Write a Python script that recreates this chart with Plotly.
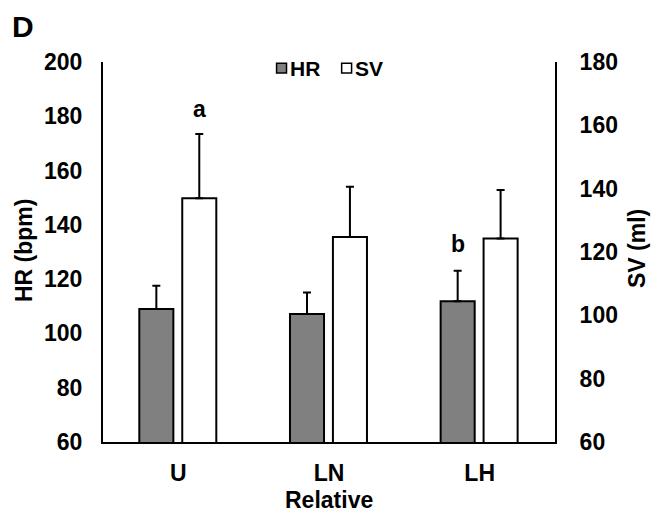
import plotly.graph_objects as go

categories = ["U", "LN", "LH"]
hr_values = [109.0, 107.2, 111.9]
hr_err = [8.6, 7.9, 11.2]
sv_values = [137.0, 124.7, 124.3]
sv_err = [20.3, 15.9, 15.3]
left_ticks = [60, 80, 100, 120, 140, 160, 180, 200]
right_ticks = [60, 80, 100, 120, 140, 160, 180]

FONT = "Liberation Sans, Arial, sans-serif"
HR_COLOR = "#808080"

fig = go.Figure()
fig.add_trace(go.Bar(
    x=categories, y=hr_values, name="HR",
    marker=dict(color=HR_COLOR, line=dict(color="black", width=2)),
    width=0.226, offset=-0.259,
    error_y=dict(type="data", array=hr_err, arrayminus=[0, 0, 0], symmetric=False,
                 color="black", thickness=2, width=4),
    yaxis="y",
))
fig.add_trace(go.Bar(
    x=categories, y=sv_values, name="SV",
    marker=dict(color="white", line=dict(color="black", width=2)),
    width=0.226, offset=0.026,
    error_y=dict(type="data", array=sv_err, arrayminus=[0, 0, 0], symmetric=False,
                 color="black", thickness=2, width=4),
    yaxis="y2",
))

tickfont = dict(family=FONT, size=23, color="black", weight="bold")

fig.update_layout(
    width=662, height=519,
    margin=dict(l=95, r=115, t=54, b=85, autoexpand=False),
    paper_bgcolor="white", plot_bgcolor="white",
    barmode="overlay",
    showlegend=False,
    xaxis=dict(
        showline=True, linecolor="black", linewidth=2, ticks="",
        showgrid=False, tickfont=tickfont, ticklabelstandoff=9,
        range=[-0.5, 2.5], automargin=False,
    ),
    yaxis=dict(
        range=[60, 200], tickvals=left_ticks, showline=True, linecolor="black", linewidth=2,
        ticks="", showgrid=False, zeroline=False, tickfont=tickfont, ticklabelstandoff=14,
        automargin=False,
    ),
    yaxis2=dict(
        range=[60, 180], tickvals=right_ticks, overlaying="y", side="right",
        showline=True, linecolor="black", linewidth=2,
        ticks="", showgrid=False, zeroline=False, tickfont=tickfont, ticklabelstandoff=18,
        automargin=False,
    ),
)

def ann(text, x, y, size=23, angle=0, xanchor="center", yanchor="middle",
        xref="paper", yref="paper", xshift=0):
    fig.add_annotation(text=text, xref=xref, yref=yref, x=x, y=y, xshift=xshift,
                       xanchor=xanchor, yanchor=yanchor, textangle=angle,
                       showarrow=False, font=dict(family=FONT, size=size, color="black"))

# axis titles
ann("<b>HR (bpm)</b>", -0.175, 0.505, angle=-90)
ann("<b>SV (ml)</b>", 1.181, 0.51, angle=-90)
ann("<b>Relative</b>", 0.5, -0.1526)
# panel letter (top of its box at the top edge of the figure)
ann("<b>D</b>", -0.176, 1.142, size=30, yanchor="top")
# significance letters
ann("<b>a</b>", 0, 182.8, xref="x", yref="y", xshift=21)
ann("<b>b</b>", 2, 132.9, xref="x", yref="y", xshift=-22)

# legend (boxes + labels)
fig.add_shape(type="rect", xref="paper", yref="paper", x0=0.384, x1=0.406, y0=0.971, y1=0.997,
              fillcolor=HR_COLOR, line=dict(color="black", width=1.5))
ann("<b>HR</b>", 0.410, 0.984, size=21, xanchor="left")
fig.add_shape(type="rect", xref="paper", yref="paper", x0=0.528, x1=0.550, y0=0.971, y1=0.997,
              fillcolor="white", line=dict(color="black", width=1.5))
ann("<b>SV</b>", 0.553, 0.984, size=21, xanchor="left")

fig.write_html("out.html")
